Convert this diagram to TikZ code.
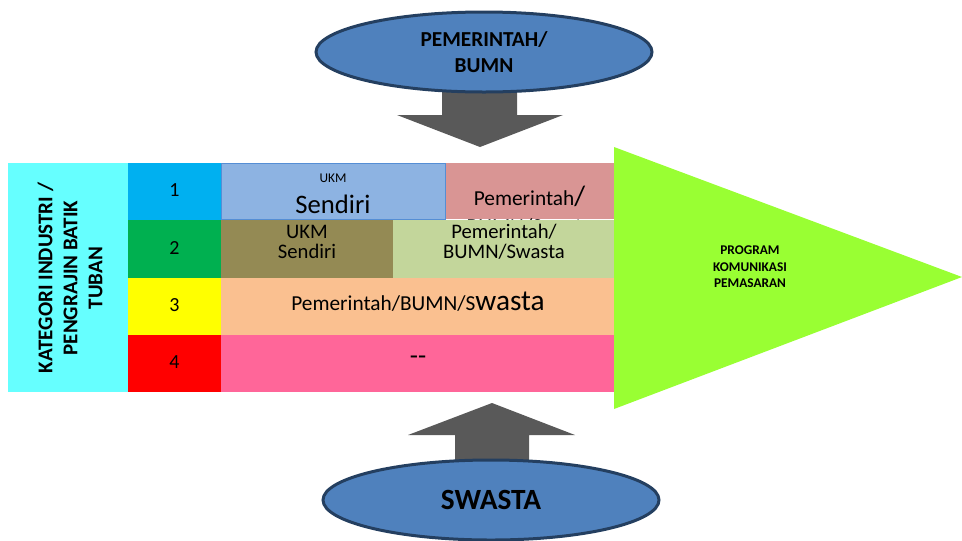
\documentclass[tikz,border=0pt]{standalone}
\usepackage{fontspec}
\setmainfont{Carlito}
\usetikzlibrary{shapes.geometric}
\definecolor{cyanbox}{HTML}{66FFFF}
\definecolor{numA}{HTML}{00B0F0}
\definecolor{numB}{HTML}{00B050}
\definecolor{numC}{HTML}{FFFF00}
\definecolor{numD}{HTML}{FF0000}
\definecolor{ukmblue}{HTML}{8DB3E2}
\definecolor{ukmblueline}{HTML}{558ED5}
\definecolor{rosebox}{HTML}{D99594}
\definecolor{olivebox}{HTML}{948A54}
\definecolor{lgreen}{HTML}{C3D69B}
\definecolor{peach}{HTML}{FAC090}
\definecolor{pinkrow}{HTML}{FF6699}
\definecolor{trigreen}{HTML}{99FF33}
\definecolor{ellfill}{HTML}{4F81BD}
\definecolor{elldraw}{HTML}{243F60}
\definecolor{arrowgray}{HTML}{595959}
\newcommand\fsz[2]{\fontsize{#1}{#2}\selectfont}
\begin{document}
\begin{tikzpicture}[x=0.75pt,y=-0.75pt,
  txt/.style={inner sep=0pt,align=center,text=black},
  oval/.style={ellipse,draw=elldraw,fill=ellfill,line width=2.25pt,
    minimum width=252pt,minimum height=60pt,inner sep=0pt,align=center},
  blockarrow/.style={fill=arrowgray,draw=none}]
\useasboundingbox (0,0) rectangle (962,540);

% block arrows (behind ellipses)
\fill[blockarrow] (442,80) -- (517,80) -- (517,115) -- (563,115) -- (480,147) -- (397,115) -- (442,115) -- cycle;
\fill[blockarrow] (455,480) -- (529,480) -- (529,435) -- (575,435) -- (492,403) -- (408,435) -- (455,435) -- cycle;

% ellipses
\node[oval,font=\bfseries\fsz{16}{19.5}] (gov) at (484,52) {PEMERINTAH/\\BUMN};
\node[oval,font=\bfseries\fsz{22}{26}] (swasta) at (491,500) {SWASTA};

% left label
\fill[cyanbox] (8,163) rectangle (128,392);
\node[txt,rotate=90,font=\bfseries\fsz{15.75}{18.75}] (kat) at (70,278) {KATEGORI INDUSTRI /\\PENGRAJIN BATIK\\TUBAN};

% number column
\fill[numA] (128,163) rectangle (221,220);
\fill[numB] (128,220) rectangle (221,278);
\fill[numC] (128,278) rectangle (221,335);
\fill[numD] (128,335) rectangle (221,392);
\node[txt,font=\fsz{15}{17}] (n1) at (174.5,190) {1};
\node[txt,font=\fsz{15}{17}] (n2) at (174.5,248) {2};
\node[txt,font=\fsz{15}{17}] (n3) at (174.5,305.5) {3};
\node[txt,font=\fsz{15}{17}] (n4) at (174.5,362.5) {4};

% row 1
\fill[rosebox] (445,163) rectangle (614,219);
\begin{scope}
\clip (445,163) rectangle (614,219);
\node[txt,font=\fsz{16}{20.5},anchor=north] (r1b) at (529.5,186) {Pemerintah{\fsz{21}{20.5}/}\\BUMN/Swasta};
\end{scope}
\filldraw[fill=ukmblue,draw=ukmblueline,line width=0.75pt] (221,163) rectangle (445,219);
\node[txt,font=\fsz{10}{12}] (r1a1) at (333,178) {UKM};
\node[txt,font=\fsz{20}{24}] (r1a2) at (333,204) {Sendiri};

% row 2
\fill[olivebox] (221,220) rectangle (393,278);
\fill[lgreen] (393,220) rectangle (614,278);
\node[txt,font=\fsz{15.5}{15}] (r2a) at (307,242) {UKM\\Sendiri};
\node[txt,font=\fsz{15.5}{15}] (r2b) at (504,242) {Pemerintah/\\BUMN/Swasta};

% row 3
\fill[peach] (221,278) rectangle (614,335);
\node[txt,font=\fsz{16}{20}] (r3) at (418,302) {Pemerintah/BUMN/S{\fsz{22}{24}wasta}};

% row 4
\fill[pinkrow] (221,335) rectangle (614,392);
\node[txt,font=\fsz{20}{24}] (r4) at (418,360) {-{}-};

% triangle
\fill[trigreen] (614,147) -- (962,277) -- (614,409) -- cycle;
\node[txt,font=\bfseries\fsz{10}{12.4}] (prog) at (750,267) {PROGRAM\\KOMUNIKASI\\PEMASARAN};
\end{tikzpicture}
\end{document}
